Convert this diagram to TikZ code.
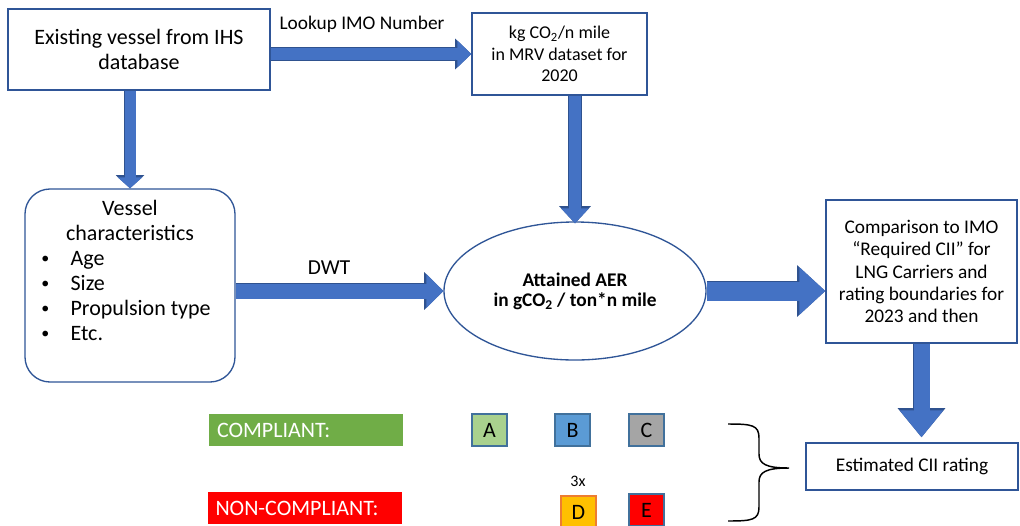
\documentclass[tikz,border=0pt]{standalone}
\usepackage{fontspec}
\setmainfont{Carlito}
\usetikzlibrary{arrows.meta,shapes.geometric}

\definecolor{flow}{HTML}{4472C4}
\definecolor{flowedge}{HTML}{2F528F}
\definecolor{frame}{HTML}{2F5597}
\definecolor{okgreen}{HTML}{70AD47}
\definecolor{ratea}{HTML}{A9D18E}
\definecolor{rateb}{HTML}{5B9BD5}
\definecolor{ratec}{HTML}{A5A5A5}
\definecolor{rated}{HTML}{FFC000}
\definecolor{rateorange}{HTML}{ED7D31}
\definecolor{rateedge}{HTML}{41719C}

\newcommand\bigtext{\fontsize{16.5}{18.75}\selectfont}
\newcommand\midtext{\fontsize{14.5}{16.7}\selectfont}
\newcommand\dotmark{\raisebox{1.6pt}{\fontsize{12}{12}\selectfont\textbullet}}

\begin{document}
\begin{tikzpicture}[x=0.75pt,y=-0.75pt,
  box/.style={draw=frame, line width=1pt, fill=white, inner sep=0pt, align=center},
  fat/.code n args={3}{%
    \pgfmathsetlengthmacro\edgew{#1+1.3pt}%
    \pgfmathsetlengthmacro\edgehw{#2+2.8pt}%
    \pgfmathsetlengthmacro\edgehl{#3+1.6pt}%
    \tikzset{draw=flow, line width=#1, -{Triangle[width=#2,length=#3]},
      preaction={draw=flowedge, line width=\edgew, -{Triangle[width=\edgehw,length=\edgehl]}}}},
  bar/.style={inner xsep=6pt, inner ysep=0pt, text=white, minimum height=24pt, text width=133.5pt,
    align=left, font=\fontsize{16.5}{18}\selectfont},
  grade/.style={draw=rateedge, line width=1pt, inner sep=0pt, minimum width=26.25pt,
    minimum height=24pt, font=\fontsize{16.5}{18}\selectfont}]

\useasboundingbox (0,0) rectangle (1020,525);
\fill[white] (0,0) rectangle (1020,525);

% process boxes
\node[box, minimum width=196.5pt, minimum height=60.75pt, font=\bigtext] (ihs) at (139,49.5)
  {Existing vessel from IHS\\database};
\node[box, minimum width=131.25pt, minimum height=61.5pt, font=\fontsize{13.5}{16.1}\selectfont] (mrv) at (559.5,54)
  {kg CO\textsubscript{2}/n mile\\in MRV dataset for\\2020};
\node[box, rounded corners=18.75pt, minimum width=157.5pt, minimum height=144.75pt, font=\bigtext] (chars) at (130,285.5)
  {\begin{tabular}{@{}l@{\hspace{16pt}}l@{\hspace{6pt}}}
     \multicolumn{2}{@{}c@{}}{Vessel}\\
     \multicolumn{2}{@{}c@{}}{characteristics}\\
     \dotmark & Age\\
     \dotmark & Size\\
     \dotmark & Propulsion type\\
     \dotmark & Etc.\\
     \mbox{} &
   \end{tabular}};
\node[box, ellipse, minimum width=196.5pt, minimum height=103.5pt,
  font=\bfseries\fontsize{14.5}{15}\selectfont] (aer) at (575,291)
  {Attained AER\\in gCO\textsubscript{2} / ton*n mile};
\node[box, minimum width=143.25pt, minimum height=107.25pt, font=\midtext] (imo) at (921.5,271.5)
  {Comparison to IMO\\“Required CII” for\\LNG Carriers and\\rating boundaries for\\2023 and then};
\node[box, minimum width=159pt, minimum height=35.25pt, font=\fontsize{14.5}{16}\selectfont] (cii) at (912,466.5)
  {Estimated CII rating};

% block arrows
\draw[fat={9pt}{19.5pt}{10.5pt}] (ihs.east |- mrv.west) -- (mrv.west);
\draw[fat={8.25pt}{18pt}{8.25pt}] (ihs.south -| chars.north) -- (chars.north);
\draw[fat={9pt}{20.25pt}{11.25pt}] (mrv.south -| aer.north) -- ([yshift=-1.5pt]aer.north);
\draw[fat={11.25pt}{24.75pt}{12.75pt}] (chars.east |- aer.west) -- (aer.west);
\draw[fat={14.25pt}{34.5pt}{19.5pt}] (aer.east) -- (aer.east -| imo.west);
\draw[fat={12pt}{31.5pt}{20.25pt}] (imo.south) -- ([yshift=3.75pt]imo.south |- cii.north);

% arrow labels
\node[font=\fontsize{14.5}{16}\selectfont] (lookup) at (362,24) {Lookup IMO Number};
\node[font=\fontsize{16}{18}\selectfont] (dwt) at (329,268) {DWT};

% rating legend
\node[bar, fill=okgreen] (ok) at (306,430) {COMPLIANT:};
\node[bar, fill=red] (nok) at (304.5,508) {NON-COMPLIANT:};
\node[grade, fill=ratea] (ga) at (489.5,430) {A};
\node[grade, fill=rateb] (gb) at (572.5,430) {B};
\node[grade, fill=ratec] (gc) at (646.5,430) {C};
\node[grade, fill=rated, draw=rateorange] (gd) at (578.5,512) {D};
\node[grade, fill=red] (ge) at (646.5,510) {E};
\node[font=\fontsize{12}{14}\selectfont] (times) at (578,481) {3x};

% brace gathering the grades
\coordinate (brtop) at (728,424);
\coordinate (brtip) at (789,468);
\coordinate (brbot) at (728,521);
\draw[line width=1.1pt]
  (brtop) .. controls (752,424) and (759,425) .. (759,438) -- (759,454)
  .. controls (759,464) and (766,468) .. (brtip)
  .. controls (766,468) and (759,472) .. (759,482) -- (759,507)
  .. controls (759,520) and (752,521) .. (brbot);
\end{tikzpicture}
\end{document}
